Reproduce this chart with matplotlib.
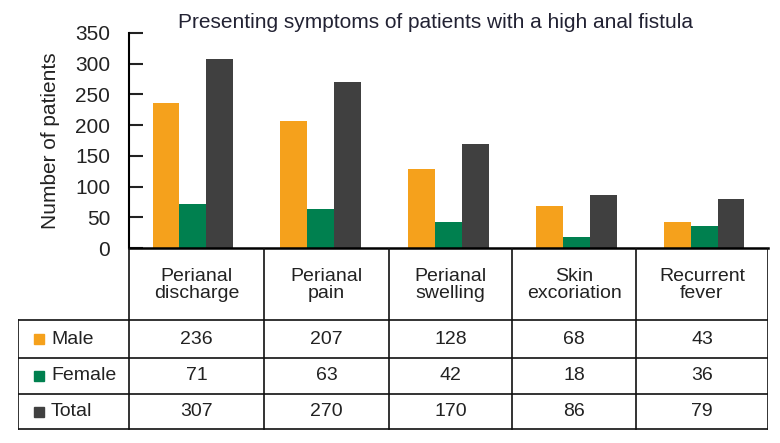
import matplotlib.pyplot as plt
import numpy as np

# Data
symptoms = ['Perianal\ndischarge', 'Perianal\npain', 'Perianal\nswelling',
            'Skin\nexcoriation', 'Recurrent\nfever']
series_names = ['Male', 'Female', 'Total']
male = [236, 207, 128, 68, 43]
female = [71, 63, 42, 18, 36]
total = [307, 270, 170, 86, 79]
y_ticks = [0, 50, 100, 150, 200, 250, 300, 350]

colors = ['#F5A11C', '#00804F', '#404040']
title = 'Presenting symptoms of patients with a high anal fistula'

plt.rcParams['font.family'] = ['Liberation Sans', 'DejaVu Sans']

W, H = 780, 443
fig = plt.figure(figsize=(W / 100, H / 100), dpi=100)


def frac(x0, y0, x1, y1):
    # pixel box (top-left origin) -> figure fraction rect
    return [x0 / W, 1 - y1 / H, (x1 - x0) / W, (y1 - y0) / H]


# Bar chart area
ax = fig.add_axes(frac(129, 33, 768, 248))
n = len(symptoms)
x = np.arange(n)
bw = 0.21
for i, vals in enumerate([male, female, total]):
    ax.bar(x + (i - 1) * bw, vals, width=bw, color=colors[i], linewidth=0)
ax.set_xlim(-0.5, n - 0.5)
ax.set_ylim(0, 350)
ax.set_yticks(y_ticks)
ax.set_xticks([])
ax.tick_params(axis='y', direction='in', length=10, width=1.5, pad=13.5,
               labelsize=15, colors='#222222')
for s in ['top', 'right']:
    ax.spines[s].set_visible(False)
ax.spines['left'].set_linewidth(1.5)
ax.spines['bottom'].set_linewidth(1.8)
ax.set_ylabel('Number of patients', fontsize=15, color='#222222', labelpad=11)
fig.text(435 / W, 1 - 23 / H, title, ha='center', va='center', fontsize=15,
         color='#222233')

# Table below the chart
tx = fig.add_axes(frac(18, 248, 768, 430))
tx.set_xlim(18, 768)
tx.set_ylim(430, 248)
tx.axis('off')
col_edges = [129, 264, 389, 512, 636, 768]
row_edges = [248, 320, 358, 394, 429]
lw = 1.2
lc = '#111111'
# vertical lines
for cx in col_edges:
    tx.plot([cx, cx], [row_edges[0], row_edges[-1]], color=lc, lw=lw)
tx.plot([18, 18], [row_edges[1], row_edges[-1]], color=lc, lw=lw)
# horizontal lines
for ry in row_edges[1:]:
    tx.plot([18, 768], [ry, ry], color=lc, lw=lw)

for j, lab in enumerate(symptoms):
    cx = (col_edges[j] + col_edges[j + 1]) / 2
    tx.text(cx, 285, lab, ha='center', va='center', fontsize=14,
            linespacing=1.05, color='#222222')

for r, (name, vals) in enumerate(zip(series_names, [male, female, total])):
    cy = (row_edges[r + 1] + row_edges[r + 2]) / 2
    tx.plot([38.5], [cy], marker='s', markersize=7.5, color=colors[r],
            linestyle='none')
    tx.text(51, cy, name, ha='left', va='center', fontsize=14,
            color='#222222')
    for j, v in enumerate(vals):
        cx = (col_edges[j] + col_edges[j + 1]) / 2
        tx.text(cx, cy, str(v), ha='center', va='center', fontsize=14,
                color='#222222')

fig.savefig('out.png', dpi=100, facecolor='white')
